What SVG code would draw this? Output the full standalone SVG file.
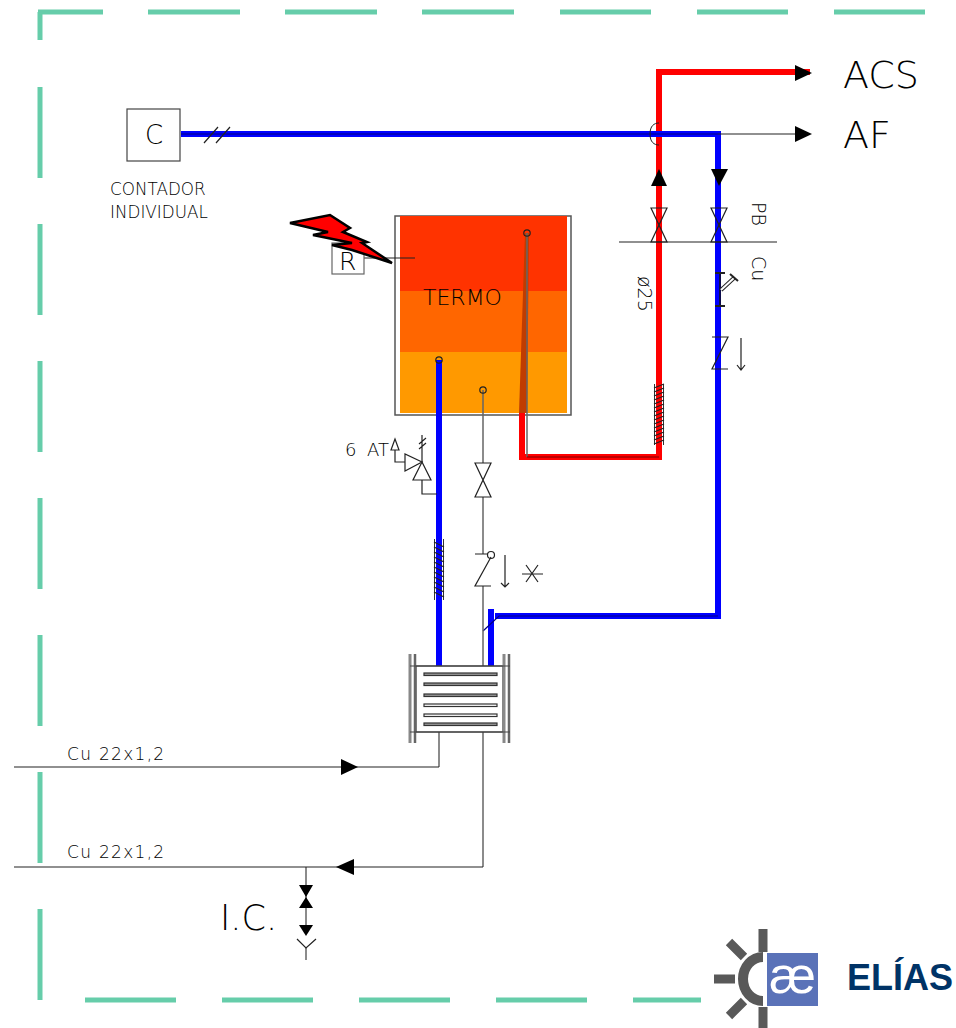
<svg xmlns="http://www.w3.org/2000/svg" width="956" height="1028" viewBox="0 0 956 1028">
<style>
text{font-family:"DejaVu Sans","Liberation Sans",sans-serif;font-weight:200;fill:#000}
.f{fill:none;stroke:#222;stroke-width:1.2}
.g{fill:none;stroke:#666;stroke-width:1.5}
.w{fill:#fff;stroke:#222;stroke-width:1.2}
.k{fill:#000;stroke:none}
.fr{fill:none;stroke:#66cdaa;stroke-width:5}
.b{fill:none;stroke:#0000ff;stroke-width:6}
.r{fill:none;stroke:#ff0000;stroke-width:6}
.v{fill:none;stroke:#222;stroke-width:1.2}
</style>
<rect width="956" height="1028" fill="#fff"/>
<g id="frame">
<path class="fr" d="M38 12H103M148 12H240M285 12H377M422 12H514M560 12H651M697 12H788M834 12H925M40 12V40M40 87V178M40 224V315M40 361V452M40 498V589M40 635V726M40 772V863M40 909V1000M85 1000H176M222 1000H313M359 1000H450M496 1000H587M633 1000H701"/>
</g>
<g id="termo">
<rect x="395" y="216" width="176" height="199" fill="#fff" stroke="#555" stroke-width="1.5"/>
<rect x="400" y="216" width="167" height="75" fill="#ff3300"/>
<rect x="400" y="291" width="167" height="61" fill="#ff6600"/>
<rect x="400" y="352" width="167" height="61" fill="#ff9900"/>
<text x="423" y="305" font-size="22">TERMO</text>
</g>
<g id="connectors">
<path class="r" d="M810 72H659V457H522V413"/>
<path d="M519 413L525 233H529L527 413Z" fill="#c03c00"/>
<path class="g" d="M527 233V457"/>
<path d="M527 457H659" fill="none" stroke="#7a0000" stroke-width="1"/>
<path class="b" d="M181 134H718V616H495"/>
<path class="b" d="M491 609V668"/>
<path class="b" d="M439 360V666"/>
<path d="M181 134H718M718 616H499L483 631" fill="none" stroke="#000080" stroke-width="1.200"/>
<path class="f" d="M718 134H800M619 242H777"/>
<path class="g" d="M483 390V463M483 497V554M483 586V666M439 732V767M483 732V867M306 867V925M306 948V960"/>
<path class="f" d="M439 767H14M483 867H14"/>
<path d="M659 123C654 123 650 126 650 134C650 142 654 145 659 145" fill="none" stroke="#222" stroke-width="1"/>
<path class="f" d="M204 143L218 127M216 143L230 127"/>
<path class="f" d="M364 258H415"/>
</g>
<g id="arrows">
<path class="k" d="M795 65L812 73L795 81Z"/>
<path class="k" d="M795 126L812 134L795 142Z"/>
<path class="k" d="M659 169L667 186H651Z"/>
<path class="k" d="M711 169H728L719 186Z"/>
<path class="k" d="M341 759L358 767L341 775Z"/>
<path class="k" d="M354 859L336 867L354 875Z"/>
</g>
<g id="contador">
<rect x="127" y="109" width="53" height="52" fill="#fff" stroke="#444" stroke-width="1.200"/>
<text x="145" y="144" font-size="26">C</text>
<text x="110" y="195" font-size="16.800">CONTADOR</text>
<text x="110" y="218" font-size="16.800">INDIVIDUAL</text>
</g>
<g id="resistencia">
<rect x="332" y="243" width="32" height="31" fill="#fff" stroke="#666" stroke-width="1.200"/>
<text x="339" y="270" font-size="25">R</text>
<path d="M290 223L330 215L350 228L343 232L367 242L362 243L392 263L352 250L332 245L352 243L313 235L328 232Z" fill="#ff0000" stroke="#000" stroke-width="2.500"/>
</g>
<g id="valves">
<path class="v" d="M651 208H667L651 242H667Z"/>
<path class="v" d="M711 208H727L711 242H727Z"/>
<path class="w" d="M475 463H491L475 497H491Z"/>
</g>
<g id="fitting">
<path d="M720 273V306" stroke="#111" stroke-width="1.500"/>
<path d="M715 273H725M715 306H725" stroke="#222" stroke-width="2"/>
<path d="M721 290L734 278" stroke="#222" stroke-width="4"/>
<path d="M721 290L734 278" stroke="#fff" stroke-width="2"/>
<path d="M730 274L738 281" stroke="#222" stroke-width="2"/>
</g>
<g id="check1">
<path class="f" d="M712 337H728L712 369H728"/>
<path class="f" d="M741 338V370M737 365L741 370L745 365"/>
</g>
<g id="check2">
<path class="f" d="M475 554H488M491 557L475 586H491"/>
<circle cx="491" cy="555" r="3.500" class="f"/>
<path class="f" d="M505 555V587M501 583L505 587L509 583"/>
<path class="f" d="M522 574H543M526 565L538 582M538 565L526 582"/>
</g>
<g id="safety">
<text x="345" y="456" font-size="18">6</text>
<text x="367" y="456" font-size="18">AT</text>
<path class="f" d="M422 462V435M419 444L426 438M419 449L426 443M422 480V494H437M405 462H395V444"/>
<path class="w" d="M391 450H399L395 439Z"/>
<path class="w" d="M405 454V471L422 462Z"/>
<path class="w" d="M422 462L431 480H413Z"/>
</g>
<g id="hatches">
<path d="M654.500 384V445M663.500 384V445" stroke="#333" stroke-width="1"/>
<path d="M654 388L664 384M654 392L664 388M654 396L664 392M654 400L664 396M654 404L664 400M654 408L664 404M654 412L664 408M654 416L664 412M654 420L664 416M654 424L664 420M654 428L664 424M654 432L664 428M654 436L664 432M654 440L664 436M654 444L664 440" stroke="#222" stroke-width="1.200"/>
<path d="M434.500 539V600M443.500 539V600" stroke="#333" stroke-width="1"/>
<path d="M434 542L444 547M434 547L444 552M434 552L444 557M434 557L444 562M434 562L444 567M434 567L444 572M434 572L444 577M434 577L444 582M434 582L444 587M434 587L444 592M434 592L444 597" stroke="#222" stroke-width="1.200"/>
</g>
<g id="sensors">
<circle cx="527" cy="233" r="3.200" class="f"/>
<circle cx="439" cy="360" r="3.200" class="f"/>
<circle cx="483" cy="390" r="3.200" class="f"/>
</g>
<g id="exchanger">
<rect x="416" y="666" width="87" height="66" fill="#fff" stroke="#333" stroke-width="1.200"/>
<path d="M410 654V743M504 654V743" stroke="#888" stroke-width="3"/>
<path d="M415 654V743M509 654V743" stroke="#666" stroke-width="2.500"/>
<path d="M410 666H510M410 732H510" stroke="#444" stroke-width="1.200"/>
<g fill="#fff" stroke="#333" stroke-width="1.200">
<rect x="424" y="673" width="73" height="2.500" fill="#999"/>
<rect x="424" y="683" width="73" height="2.500" fill="#999"/>
<rect x="424" y="694" width="73" height="2.500" fill="#999"/>
<rect x="424" y="704" width="73" height="2.500"/>
<rect x="424" y="714" width="73" height="2.500"/>
<rect x="424" y="723" width="73" height="2.500" fill="#999"/>
</g>
</g>
<g id="ic">
<path class="k" d="M299 885H313L306 897L313 908H299L306 897Z"/>
<path class="k" d="M299 925H313L306 936Z"/>
<path class="f" d="M297 939L306 948L316 939"/>
<text x="220" y="930" font-size="35">I.C.</text>
</g>
<g id="labels">
<text x="843" y="88" font-size="38">ACS</text>
<text x="843" y="148" font-size="38">AF</text>
<text x="67" y="760" font-size="17" letter-spacing="1.300">Cu 22x1,2</text>
<text x="67" y="858" font-size="17" letter-spacing="1.300">Cu 22x1,2</text>
<text transform="translate(752 202) rotate(90)" font-size="19">PB</text>
<text transform="translate(752 256) rotate(90)" font-size="19">Cu</text>
<text transform="translate(638 276) rotate(90)" font-size="19">ø25</text>
</g>
<g id="logo">
<path d="M763 929V952M763 1007V1028M714 979H735M729 942L744 957M729 1016L744 1001" fill="none" stroke="#595959" stroke-width="9"/>
<path d="M763 957A20 22 0 0 0 763 1001" fill="none" stroke="#595959" stroke-width="10"/>
<rect x="767" y="953" width="51" height="53" fill="#5a72b8"/>
<text x="769" y="993" font-size="52" textLength="47" lengthAdjust="spacingAndGlyphs" style="fill:#fff;font-family:'Liberation Sans',sans-serif;font-weight:400">æ</text>
<text x="847" y="990" font-size="36" style="fill:#003366;font-family:'Liberation Sans',sans-serif;font-weight:700">ELÍAS</text>
</g>
</svg>
